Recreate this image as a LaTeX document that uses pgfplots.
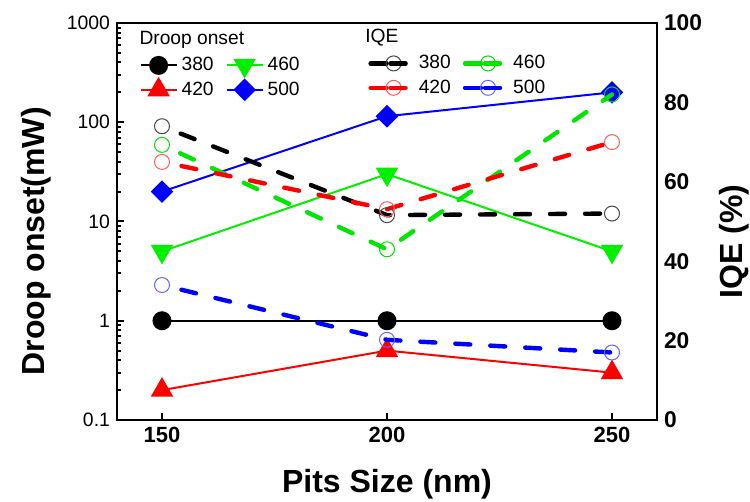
\documentclass[border=0pt]{standalone}
\usepackage{fontspec}
\setmainfont{Liberation Sans}
\usepackage{pgfplots}
\pgfplotsset{compat=1.18}
\definecolor{cgreen}{RGB}{0,240,0}
\definecolor{dgreen}{RGB}{0,230,0}
\definecolor{ored}{RGB}{255,90,90}
\definecolor{oblue}{RGB}{100,100,255}
\definecolor{ogreen}{RGB}{0,220,0}
\definecolor{oblack}{RGB}{70,70,70}
\begin{document}
\begin{tikzpicture}
\useasboundingbox (0,0) rectangle (375pt,251pt);
\begin{axis}[
  at={(58.5pt,41pt)}, anchor=south west, scale only axis,
  width=270pt, height=198.5pt,
  xmin=140, xmax=260, ymode=log, ymin=0.1, ymax=1000,
  xtick={150,200,250}, xticklabels={150,200,250},
  ytick={0.1,1,10,100,1000}, yticklabels={0.1,1,10,100,1000},
  minor ytick={0.2,0.3,0.4,0.5,0.6,0.7,0.8,0.9,2,3,4,5,6,7,8,9,20,30,40,50,60,70,80,90,200,300,400,500,600,700,800,900},
  xtick pos=bottom, ytick pos=left, tick align=inside,
  axis line style={line width=1pt},
  major tick length=3.5pt, minor tick length=2pt,
  every tick/.style={line width=1pt, black},
  xticklabel style={font=\fontsize{11}{13}\selectfont\bfseries},
  yticklabel style={font=\fontsize{9.7}{12}\selectfont},
  xlabel={Pits Size (nm)}, ylabel={Droop onset(mW)},
  label style={font=\fontsize{16}{19}\selectfont\bfseries},
  xlabel style={at={(axis description cs:0.5,-0.161)}, anchor=center},
  ylabel style={at={(axis description cs:-0.15,0.45)}, anchor=center},
  legend columns=2,
  legend cell align=left,
  legend style={draw=none, fill=none, at={(axis description cs:0.03,0.935)}, anchor=north west,
    font=\fontsize{9.6}{11}\selectfont, row sep=0pt,
    /tikz/every even column/.append style={column sep=4pt}},
  legend image code/.code={\draw[mark repeat=2,mark phase=2] plot coordinates {(0pt,0pt) (9pt,0pt) (18pt,0pt)};},
]
\addplot[black, line width=1pt, mark=*, mark size=4.25pt] coordinates {(150,1) (200,1) (250,1)};
\addlegendentry{380}
\addplot[cgreen, line width=1pt, mark=triangle*, mark size=5.5pt, mark options={rotate=180}] coordinates {(150,5) (200,30) (250,5)};
\addlegendentry{460}
\addplot[red, line width=1pt, mark=triangle*, mark size=5.5pt] coordinates {(150,0.2) (200,0.5) (250,0.3)};
\addlegendentry{420}
\addplot[blue, line width=1pt, mark=square*, mark size=3.5pt, mark options={rotate=45}] coordinates {(150,20) (200,115) (250,200)};
\addlegendentry{500}
\node[anchor=base west, font=\fontsize{9.6}{11}\selectfont, inner sep=0pt] at (axis description cs:0.041,0.945) {Droop onset};
\end{axis}
\begin{axis}[
  at={(58.5pt,41pt)}, anchor=south west, scale only axis,
  width=270pt, height=198.5pt,
  xmin=140, xmax=260, ymin=0, ymax=100,
  axis y line*=right, axis x line=none,
  axis line style={line width=1pt},
  ytick={0,20,40,60,80,100}, yticklabels={0,20,40,60,80,100},
  major tick length=0pt,
  yticklabel style={font=\fontsize{11.4}{13}\selectfont\bfseries},
  ylabel={IQE (\%)},
  ylabel style={font=\fontsize{16}{19}\selectfont\bfseries, at={(axis description cs:1.1426,0.45)}, anchor=center},
  legend columns=2,
  legend cell align=left,
  legend style={draw=none, fill=none, at={(axis description cs:0.4537,0.94)}, anchor=north west,
    font=\fontsize{9.6}{11}\selectfont, row sep=0pt,
    /tikz/every even column/.append style={column sep=4pt}},
  legend image code/.code={\draw[solid, mark=none, line cap=round] (0pt,0pt) -- (8pt,0pt); \draw plot coordinates {(11.5pt,0pt)}; \path (0pt,0pt) -- (21pt,0pt);},
  every axis plot/.append style={line width=2.2pt, line cap=round, dash pattern=on 7.5pt off 10pt, dash phase=7.5pt, mark=o, mark size=3.75pt},
]
\addplot[black, mark options={solid, line width=0.5pt, draw=oblack}] coordinates {(150,74) (200,51.6) (250,52)};
\addlegendentry{380}
\addplot[dgreen, mark options={solid, line width=0.5pt, draw=ogreen}] coordinates {(150,69.3) (200,43) (250,82)};
\addlegendentry{460}
\addplot[red, mark options={solid, line width=0.5pt, draw=ored}] coordinates {(150,65) (200,53.1) (250,70)};
\addlegendentry{420}
\addplot[blue, mark options={solid, line width=0.5pt, draw=oblue}] coordinates {(150,34) (200,20.2) (250,17)};
\addlegendentry{500}
\node[anchor=base west, font=\fontsize{9.6}{11}\selectfont, inner sep=0pt] at (axis description cs:0.459,0.952) {IQE};
\end{axis}
\end{tikzpicture}
\end{document}
